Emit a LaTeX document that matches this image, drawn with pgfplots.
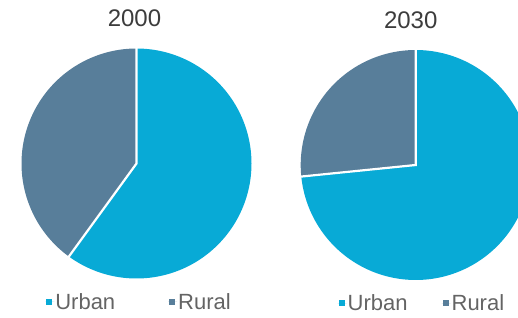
\documentclass[border=0pt]{standalone}
\usepackage{fontspec}
\setmainfont{Liberation Sans}
\usepackage{pgfplots}
\pgfplotsset{compat=1.18}
\definecolor{urban}{RGB}{8,170,214}
\definecolor{rural}{RGB}{88,126,154}
\definecolor{titlegrey}{RGB}{60,60,60}
\definecolor{leggrey}{RGB}{100,100,100}
\pgfplotsset{
  piechart/.style={
    x=115pt, y=115pt, xmin=-1, xmax=1, ymin=-1, ymax=1,
    hide axis, anchor=center,
    title style={font=\fontsize{24}{28}\selectfont, text=titlegrey, anchor=center},
    legend columns=2,
    legend image code/.code={\path (-1pt,0pt) -- (8pt,0pt);
      \fill[##1] (0pt,-3pt) rectangle (6pt,3pt);},
    legend style={draw=none, fill=none, anchor=center,
      font=\fontsize{22}{26}\selectfont, text=leggrey,
      nodes={inner sep=1pt}},
  },
  slice/.style={draw=none, samples=150, variable=\t},
  divider/.style={white, line width=2.2pt, no marks, forget plot},
}
\begin{document}
\begin{tikzpicture}
\useasboundingbox (0,0) rectangle (518pt,317pt);
\begin{scope}[overlay]
% 2000: Urban 60 %, Rural 40 % (clockwise from 12 o'clock)
\begin{axis}[piechart, at={(136.5pt,153.5pt)},
  title={2000}, title style={at={(0.5,1)}, yshift=24pt, xshift=-2pt},
  legend style={at={(0.509,-0.102)},
    /tikz/every even column/.append style={column sep=52pt}}]
\addplot[slice, fill=urban, domain={90-3.6*60}:90] ({cos(t)},{sin(t)}) -- (axis cs:0,0) -- cycle;
\addlegendentry{Urban}
\addplot[slice, fill=rural, domain=90:{90+3.6*40}] ({cos(t)},{sin(t)}) -- (axis cs:0,0) -- cycle;
\addlegendentry{Rural}
\addplot[divider] coordinates {(0,1.02) (0,0) (-0.5996,-0.8252)};
\end{axis}
% 2030: Urban 73.4 %, Rural 26.6 %
\begin{axis}[piechart, at={(415.7pt,152pt)},
  title={2030}, title style={at={(0.5,1)}, yshift=24pt, xshift=-5pt},
  legend style={at={(0.525,-0.10)},
    /tikz/every even column/.append style={column sep=33pt}}]
\addplot[slice, fill=urban, domain={90-3.6*73.4}:90] ({cos(t)},{sin(t)}) -- (axis cs:0,0) -- cycle;
\addlegendentry{Urban}
\addplot[slice, fill=rural, domain=90:{90+3.6*26.6}] ({cos(t)},{sin(t)}) -- (axis cs:0,0) -- cycle;
\addlegendentry{Rural}
\addplot[divider] coordinates {(0,1.02) (0,0) (-1.0148,-0.1024)};
\end{axis}
\end{scope}
\end{tikzpicture}
\end{document}
